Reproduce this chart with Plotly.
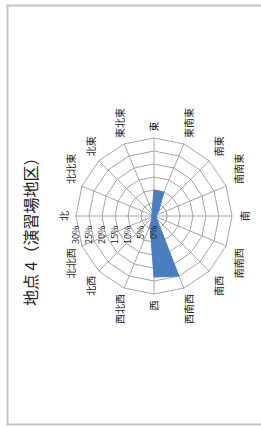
import plotly.graph_objects as go

directions = ["北", "北北東", "北東", "東北東", "東", "東南東", "南東", "南南東",
              "南", "南南西", "南西", "西南西", "西", "西北西", "北西", "北北西"]
frequency = [1, 1, 1, 2, 10, 10, 2.5, 1, 1, 1, 1.5, 25, 23.5, 4, 1, 1]
radial_ticks = [0, 5, 10, 15, 20, 25, 30]
radial_labels = ["0%", "5%", "10%", "15%", "20%", "25%", "30%"]
title_text = "地点 4（演習場地区）"

# The chart is laid out upright (428 wide x 261 tall) and the page turns it
# a quarter turn counter-clockwise, as in the reference.
W, H = 428, 261
cx, cy, R = 212, 154, 78   # centre (px from left/top) and radius of the rose

fig = go.Figure()
fig.add_trace(go.Scatterpolar(
    r=frequency + [frequency[0]],
    theta=directions + [directions[0]],
    mode="lines",
    fill="toself",
    fillcolor="#4a7ebf",
    line=dict(color="#4a7ebf", width=1),
    showlegend=False,
    hoverinfo="skip",
))

fnt = "Noto Sans CJK JP"
fig.update_layout(
    width=W, height=H,
    margin=dict(l=0, r=0, t=0, b=0),
    paper_bgcolor="white",
    plot_bgcolor="white",
    hovermode=False,
    font=dict(family=fnt, color="#333"),
    polar=dict(
        domain=dict(x=[(cx - R) / W, (cx + R) / W],
                    y=[(H - cy - R) / H, (H - cy + R) / H]),
        bgcolor="white",
        gridshape="linear",
        angularaxis=dict(
            direction="clockwise",
            rotation=90,
            categoryorder="array",
            categoryarray=directions,
            tickfont=dict(size=10, family=fnt, color="#222"),
            showline=True,
            linecolor="#a6a6a6",
            linewidth=1,
            gridcolor="#a6a6a6",
            gridwidth=1,
            ticks="outside",
            ticklen=4,
            tickcolor="rgba(0,0,0,0)",
        ),
        radialaxis=dict(
            range=[0, 30],
            tickvals=radial_ticks,
            ticktext=radial_labels,
            angle=90,
            side="counterclockwise",
            tickangle=90,
            tickfont=dict(size=9, family=fnt, color="#222"),
            showline=False,
            gridcolor="#a6a6a6",
            gridwidth=1,
            ticks="outside",
            ticklen=6,
            tickcolor="rgba(0,0,0,0)",
        ),
    ),
    annotations=[dict(
        text=title_text,
        x=200 / W, y=(H - 30) / H,
        xref="paper", yref="paper",
        xanchor="center", yanchor="middle",
        showarrow=False,
        font=dict(size=16, family=fnt, color="#222"),
    )],
    shapes=[dict(
        type="rect", xref="paper", yref="paper",
        x0=3.5 / W, x1=422.5 / W, y0=-0.05, y1=(H - 7.5) / H,
        line=dict(color="#c4c4c4", width=2),
    )],
)

turn = (
    "document.body.style.margin='0';"
    "document.body.style.overflow='hidden';"
    "var gd=document.getElementById('{plot_id}');"
    "gd.style.transformOrigin='0 0';"
    "gd.style.transform='translate(0px,428px) rotate(-90deg)';"
)

fig.write_html(
    "out.html",
    config={"displayModeBar": False, "staticPlot": True},
    post_script=turn,
)
